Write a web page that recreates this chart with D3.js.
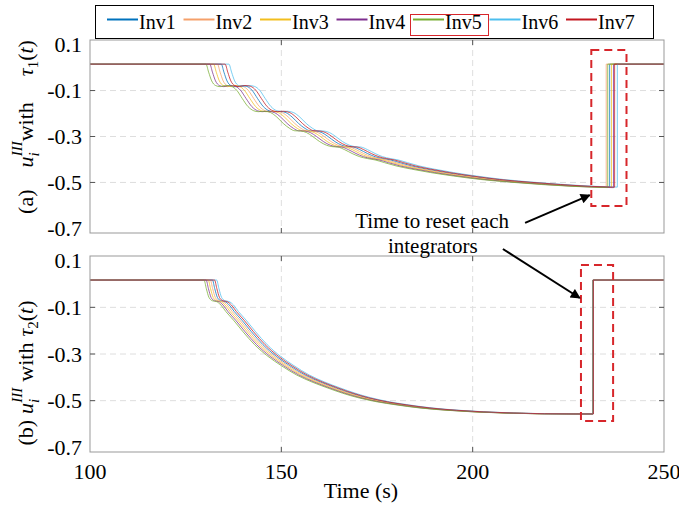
<!DOCTYPE html>
<html>
<head>
<meta charset="utf-8">
<script src="https://cdn.jsdelivr.net/npm/d3@7"></script>
<style>
  body { margin: 0; background: #fff; }
  svg { display: block; }
  text { font-family: "Liberation Serif", "Times New Roman", "DejaVu Serif", serif; fill: #000; }
</style>
</head>
<body>
<svg id="chart" width="679" height="506"></svg>
<script>
// ---- data ----
var inverters = ['Inv1', 'Inv2', 'Inv3', 'Inv4', 'Inv5', 'Inv6', 'Inv7'];
var colors = ['#0072BD', '#F5A06A', '#F2BE1E', '#7E2F8E', '#77AC30', '#4DBEEE', '#C3161F'];

var timeTicks = [100, 150, 200, 250];
var valueTicks = [0.1, -0.1, -0.3, -0.5, -0.7];
var gridTimes = [150, 200];
var gridValues = [-0.1, -0.3, -0.5];

// (a) tau_1 : profile of the earliest inverter (Inv5), then lag and reset time of each inverter
var topProfileT = [130.3, 131.0, 131.8, 132.8, 134.0, 135.5, 137.0, 138.3, 139.8, 141.3, 142.8, 144.0, 145.5, 147.2,
  148.8, 150.5, 152.2, 153.5, 155.0, 156.6, 158.2, 160.0, 161.8, 163.2, 164.8, 166.5, 168.5, 170.5, 172.5,
  174.5, 177, 180, 184, 189, 195, 202, 210, 218, 226, 240, 250];
var topProfileV = [0.015, -0.02, -0.058, -0.078, -0.083, -0.078, -0.082, -0.098, -0.135, -0.170, -0.188, -0.192, -0.190, -0.196,
  -0.215, -0.243, -0.265, -0.275, -0.276, -0.283, -0.300, -0.322, -0.338, -0.344, -0.346, -0.357, -0.374, -0.388, -0.396,
  -0.402, -0.414, -0.428, -0.442, -0.457, -0.472, -0.487, -0.499, -0.509, -0.517, -0.525, -0.527];
var topLag = [4.0, 3.0, 2.0, 1.0, 0, 6.0, 5.0];
var topReset = [235.8, 234.9, 236.3, 236.8, 235.3, 237.8, 237.1];
var topFlat = 0.015;

// (b) tau_2
var botProfileT = [129.8, 130.4, 131.1, 132.0, 133.0, 134.2, 135.5, 137.5, 140, 143, 146.5, 150, 154, 158, 162, 166,
  170, 175, 180, 186, 193, 200, 208, 216, 224, 240, 250];
var botProfileV = [0.017, -0.02, -0.058, -0.072, -0.075, -0.09, -0.118, -0.155, -0.205, -0.26, -0.31, -0.35, -0.39, -0.42, -0.445, -0.468,
  -0.487, -0.505, -0.518, -0.531, -0.541, -0.548, -0.553, -0.556, -0.557, -0.557, -0.557];
var botLag = [2.2, 1.65, 1.1, 0.55, 0, 3.3, 2.75];
var botReset = [231.45, 231.4, 231.45, 231.4, 231.45, 231.5, 231.55];
var botFlat = 0.017;

// dashed boxes round the resets (time span, value span)
var topBoxT = [231.0, 240.2], topBoxV = [0.076, -0.602];
var botBoxT = [228.3, 236.7], botBoxV = [0.081, -0.587];

var svg = d3.select('#chart');
var x = d3.scaleLinear().domain([100, 250]).range([90, 664]);

var defs = svg.append('defs');
defs.append('marker')
  .attr('id', 'arrow')
  .attr('viewBox', '0 0 10 10')
  .attr('refX', 9).attr('refY', 5)
  .attr('markerWidth', 6).attr('markerHeight', 5)
  .attr('markerUnits', 'strokeWidth')
  .attr('orient', 'auto')
  .append('path').attr('d', 'M0,0L10,5L0,10z').attr('fill', '#000');

function seriesPoints(profT, profV, lag, reset) {
  var pts = [[100, profV[0]]];
  for (var k = 0; k < profT.length; k++) {
    var t = profT[k] + lag;
    if (t < reset) pts.push([t, profV[k]]);
    else {
      // value where the reset cuts the curve
      var t0 = profT[k - 1] + lag, v0 = profV[k - 1];
      var f = (reset - t0) / (t - t0);
      pts.push([reset, v0 + f * (profV[k] - v0)]);
      break;
    }
  }
  return pts;
}

function drawPanel(p) {
  var y = d3.scaleLinear().domain([-0.72, 0.12]).range([p.bottom, p.top]);
  var g = svg.append('g');

  // grid
  gridTimes.forEach(function(t) {
    g.append('line')
      .attr('x1', x(t)).attr('x2', x(t))
      .attr('y1', p.top).attr('y2', p.bottom)
      .attr('stroke', '#dedede').attr('stroke-dasharray', '6,4');
  });
  gridValues.forEach(function(v) {
    g.append('line')
      .attr('x1', x(100)).attr('x2', x(250))
      .attr('y1', y(v)).attr('y2', y(v))
      .attr('stroke', '#dedede').attr('stroke-dasharray', '6,4');
  });

  var clipId = 'clip-' + p.id;
  defs.append('clipPath').attr('id', clipId)
    .append('rect')
    .attr('x', x(100)).attr('y', p.top)
    .attr('width', x(250) - x(100)).attr('height', p.bottom - p.top);

  var lines = g.append('g').attr('clip-path', 'url(#' + clipId + ')');
  var smooth = d3.line().x(function(d) { return x(d[0]); }).y(function(d) { return y(d[1]); })
    .curve(d3.curveMonotoneX);
  var straight = d3.line().x(function(d) { return x(d[0]); }).y(function(d) { return y(d[1]); });

  inverters.forEach(function(name, i) {
    var pts = seriesPoints(p.profT, p.profV, p.lag[i], p.reset[i]);
    var last = pts[pts.length - 1];
    lines.append('path')
      .attr('d', smooth(pts))
      .attr('fill', 'none')
      .attr('stroke', colors[i])
      .attr('stroke-width', 1)
      .attr('opacity', 0.75);
    lines.append('path')
      .attr('d', straight([last, [p.reset[i], p.flat], [250, p.flat]]))
      .attr('fill', 'none')
      .attr('stroke', colors[i])
      .attr('stroke-width', 1)
      .attr('opacity', 0.75);
  });

  // reset box
  g.append('rect')
    .attr('x', x(p.boxT[0])).attr('y', y(p.boxV[0]))
    .attr('width', x(p.boxT[1]) - x(p.boxT[0]))
    .attr('height', y(p.boxV[1]) - y(p.boxV[0]))
    .attr('fill', 'none')
    .attr('stroke', '#D7262B')
    .attr('stroke-width', 2)
    .attr('stroke-dasharray', '8,5');

  // box and ticks
  g.append('rect')
    .attr('x', x(100)).attr('y', p.top)
    .attr('width', x(250) - x(100)).attr('height', p.bottom - p.top)
    .attr('fill', 'none').attr('stroke', '#999').attr('stroke-width', 1);
  gridTimes.forEach(function(t) {
    g.append('line').attr('x1', x(t)).attr('x2', x(t)).attr('y1', p.bottom).attr('y2', p.bottom - 5).attr('stroke', '#555');
    g.append('line').attr('x1', x(t)).attr('x2', x(t)).attr('y1', p.top).attr('y2', p.top + 5).attr('stroke', '#555');
  });
  gridValues.forEach(function(v) {
    g.append('line').attr('x1', x(100)).attr('x2', x(100) + 5).attr('y1', y(v)).attr('y2', y(v)).attr('stroke', '#555');
    g.append('line').attr('x1', x(250)).attr('x2', x(250) - 5).attr('y1', y(v)).attr('y2', y(v)).attr('stroke', '#555');
  });

  valueTicks.forEach(function(v) {
    g.append('text')
      .attr('x', 82).attr('y', y(v))
      .attr('dy', '0.35em')
      .attr('text-anchor', 'end')
      .attr('font-size', 22)
      .text(v.toFixed(1));
  });

  // y label
  var lab = g.append('text')
    .attr('transform', 'translate(33,' + p.labelY + ') rotate(-90)')
    .attr('text-anchor', 'middle')
    .attr('font-size', 22);
  lab.append('tspan').text(p.tag);
  lab.append('tspan').attr('dx', p.gap[0]).attr('font-style', 'italic').text('u');
  lab.append('tspan').attr('font-style', 'italic').attr('font-size', 15).attr('dy', 6).text('i');
  lab.append('tspan').attr('font-style', 'italic').attr('font-size', 15).attr('dx', -4).attr('dy', -17).text('III');
  lab.append('tspan').attr('dx', p.gap[1]).attr('dy', 11).text('with');
  lab.append('tspan').attr('dx', p.gap[2]).attr('font-style', 'italic').text('τ');
  lab.append('tspan').attr('font-size', 15).attr('dy', 5).text(p.tauSub);
  lab.append('tspan').attr('dy', -5).text('(');
  lab.append('tspan').attr('font-style', 'italic').text('t');
  lab.append('tspan').text(')');

  return y;
}

var yTop = drawPanel({
  id: 'a', top: 40, bottom: 233, profT: topProfileT, profV: topProfileV,
  lag: topLag, reset: topReset, flat: topFlat, boxT: topBoxT, boxV: topBoxV,
  tag: '(a)', gap: [22, 0, 26], tauSub: '1', labelY: 127
});
var yBot = drawPanel({
  id: 'b', top: 256, bottom: 452, profT: botProfileT, profV: botProfileV,
  lag: botLag, reset: botReset, flat: botFlat, boxT: botBoxT, boxV: botBoxV,
  tag: '(b)', gap: [6, 6, 6], tauSub: '2', labelY: 373
});

// x axis labels
timeTicks.forEach(function(t) {
  svg.append('text')
    .attr('x', x(t)).attr('y', 479)
    .attr('text-anchor', 'middle')
    .attr('font-size', 22)
    .text(t);
});
svg.append('text')
  .attr('x', 361).attr('y', 498)
  .attr('text-anchor', 'middle')
  .attr('font-size', 22)
  .text('Time (s)');

// annotation
svg.append('text')
  .attr('x', x(189.4)).attr('y', yTop(-0.698))
  .attr('text-anchor', 'middle')
  .attr('font-size', 21)
  .text('Time to reset each');
svg.append('text')
  .attr('x', x(189.6)).attr('y', yTop(-0.805))
  .attr('text-anchor', 'middle')
  .attr('font-size', 21)
  .text('integrators');
svg.append('line')
  .attr('x1', x(213.7)).attr('y1', yTop(-0.676))
  .attr('x2', x(230.6)).attr('y2', yTop(-0.555))
  .attr('stroke', '#000').attr('stroke-width', 2)
  .attr('marker-end', 'url(#arrow)');
svg.append('line')
  .attr('x1', x(207.9)).attr('y1', yBot(0.15))
  .attr('x2', x(228.0)).attr('y2', yBot(-0.06))
  .attr('stroke', '#000').attr('stroke-width', 2)
  .attr('marker-end', 'url(#arrow)');

// legend
var legend = svg.append('g');
legend.append('rect')
  .attr('x', 95.5).attr('y', 5.5).attr('width', 558).attr('height', 33)
  .attr('fill', '#fff').attr('stroke', '#000').attr('stroke-width', 1);
inverters.forEach(function(name, i) {
  var x0 = 107 + i * 76.5;
  legend.append('line')
    .attr('x1', x0).attr('x2', x0 + 31)
    .attr('y1', 19.5).attr('y2', 19.5)
    .attr('stroke', colors[i]).attr('stroke-width', 2);
  legend.append('text')
    .attr('x', x0 + 32).attr('y', 28.5)
    .attr('font-size', 20)
    .text(name);
});
// highlight round Inv5
legend.append('rect')
  .attr('x', 410.5).attr('y', 14.5).attr('width', 78).attr('height', 21)
  .attr('fill', 'none').attr('stroke', '#D7262B').attr('stroke-width', 1);
</script>
</body>
</html>
